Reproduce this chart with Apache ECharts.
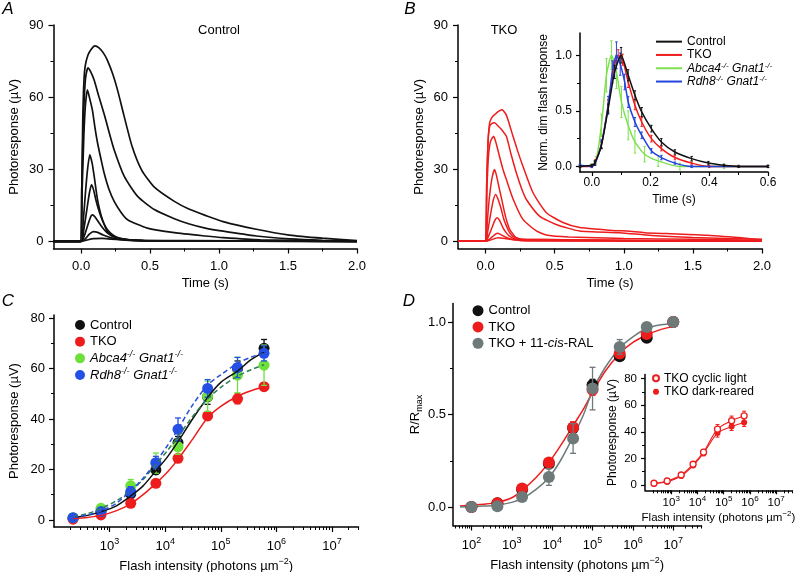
<!DOCTYPE html>
<html><head><meta charset="utf-8">
<script src="https://cdn.jsdelivr.net/npm/echarts@6/dist/echarts.min.js"></script>
<style>html,body{margin:0;padding:0;background:#fff}#c{width:797px;height:572px}</style>
</head><body><div id="c"></div><script>
// ---------------- DATA ----------------
// Panel A: Control flash responses [time (s), µV]
const ctrlTrace1 = [[-0.2,0],[-0.005,0],[0.005,22],[0.012,50],[0.02,66],[0.03,73],[0.05,77.5],[0.075,80],[0.1,81.3],[0.13,80.5],[0.16,78.5],[0.19,75.4],[0.23,69.5],[0.264,63],[0.31,52.5],[0.37,39.4],[0.44,29.5],[0.531,22.5],[0.676,16.6],[0.785,13.3],[0.9,10.8],[1.03,8.2],[1.27,5],[1.51,2.6],[1.75,1.3],[2.0,0.3]];
const ctrlTrace2 = [[-0.2,0],[-0.005,0],[0.005,22],[0.015,48],[0.025,62],[0.035,69],[0.05,72.2],[0.07,70.5],[0.095,67],[0.13,60],[0.167,53],[0.2,46],[0.24,38],[0.313,27],[0.41,18.7],[0.531,13.2],[0.676,9.4],[0.785,7.2],[0.9,5.5],[1.03,4.2],[1.27,2.2],[1.51,1.0],[1.75,0.4],[2.0,0.1]];
const ctrlTrace3 = [[-0.2,0],[-0.005,0],[0.008,22],[0.02,44],[0.032,57],[0.046,63],[0.06,60],[0.082,54.6],[0.1,47.5],[0.119,41],[0.145,34],[0.167,28.4],[0.2,22],[0.24,16.6],[0.29,12],[0.337,9],[0.48,5.5],[0.676,3.6],[0.9,2.2],[1.03,1.5],[1.3,0.6],[2.0,0]];
const ctrlTrace4 = [[-0.2,0],[0,0],[0.015,8],[0.03,19],[0.045,29],[0.063,36],[0.08,32.5],[0.095,27],[0.107,22],[0.119,17.3],[0.137,12.5],[0.155,9],[0.19,4.1],[0.23,2.2],[0.264,1.4],[0.35,0.6],[0.6,0.2],[2.0,0]];
const ctrlTrace5 = [[-0.2,0],[0,0],[0.02,5],[0.04,12.5],[0.06,20],[0.075,23.5],[0.09,21.5],[0.107,17.3],[0.125,13.5],[0.143,10.4],[0.165,7.3],[0.19,4.9],[0.23,2.6],[0.28,1.2],[0.4,0.4],[2.0,0]];
const ctrlTrace6 = [[-0.2,0],[0,0],[0.025,2.5],[0.05,7],[0.07,10.3],[0.082,11],[0.1,10.2],[0.131,7.6],[0.16,5.3],[0.19,3.5],[0.23,2],[0.3,0.9],[0.45,0.3],[2.0,0]];
const ctrlTrace7 = [[-0.2,0],[0,0],[0.03,1],[0.06,3],[0.09,4],[0.12,3.7],[0.16,2.6],[0.22,1.4],[0.3,0.6],[0.45,0.2],[2.0,0]];
const ctrlTrace8 = [[-0.2,0],[0,0],[0.04,0.5],[0.09,1.1],[0.15,1.2],[0.22,0.9],[0.35,0.5],[0.5,0.2],[2.0,0]];
// Panel B: TKO flash responses [time (s), µV]
const tkoTrace1 = [[-0.2,0],[-0.005,0],[0.008,25],[0.018,42],[0.029,49.3],[0.045,51.5],[0.065,52.7],[0.09,54],[0.118,54.7],[0.15,52.5],[0.198,43.7],[0.235,37],[0.27,31.2],[0.343,20.2],[0.44,11.9],[0.56,7.8],[0.68,5.7],[0.826,5],[0.95,4.4],[1.02,4.3],[1.15,3.6],[1.31,3.2],[1.6,2.5],[1.9,1.2],[2.0,0.6]];
const tkoTrace2 = [[-0.2,0],[-0.005,0],[0.008,25],[0.018,42],[0.03,48],[0.045,49],[0.065,49.3],[0.09,48],[0.115,46.5],[0.15,43.7],[0.185,36],[0.222,28.5],[0.26,22],[0.295,17.4],[0.39,10.5],[0.51,7],[0.68,4.3],[0.97,3.6],[1.2,2.4],[1.5,1.6],[2.0,0.8]];
const tkoTrace3 = [[-0.2,0],[-0.005,0],[0.008,20],[0.02,35],[0.035,41.5],[0.058,43.7],[0.075,41],[0.1,35.4],[0.125,30],[0.15,25.7],[0.2,17.4],[0.27,9.1],[0.367,4.3],[0.45,2.5],[0.6,1.8],[1.0,1.2],[1.5,0.8],[2.0,0.4]];
const tkoTrace4 = [[-0.2,0],[0,0],[0.012,8],[0.025,17],[0.045,26],[0.065,29.9],[0.08,27],[0.1,21.6],[0.12,16.5],[0.137,11.9],[0.155,8],[0.174,5],[0.2,2.8],[0.22,1.5],[0.3,0.6],[2.0,0]];
const tkoTrace5 = [[-0.2,0],[0,0],[0.015,4],[0.035,11],[0.055,17],[0.072,19.5],[0.09,17.5],[0.113,13.3],[0.13,9.5],[0.15,6.4],[0.175,3.5],[0.2,2],[0.26,0.8],[2.0,0]];
const tkoTrace6 = [[-0.2,0],[0,0],[0.02,2],[0.045,5.5],[0.065,8.5],[0.082,9.8],[0.1,8.8],[0.125,5.7],[0.15,3.5],[0.175,2],[0.22,0.8],[2.0,0]];
const tkoTrace7 = [[-0.2,0],[0,0],[0.03,1],[0.06,2.5],[0.085,3.3],[0.11,2.8],[0.15,1.6],[0.2,0.7],[0.3,0.2],[2.0,0]];
const tkoTrace8 = [[-0.2,0],[0,0],[0.04,0.6],[0.09,1.5],[0.14,1.2],[0.2,0.6],[0.3,0.2],[2.0,0]];
// Panel B inset: normalized dim flash responses [time (s), value, SEM]
const insetControl = [[-0.04,0,0.01],[0.0,0.01,0.01],[0.01,0.03,0.02],[0.033,0.19,0.03],[0.056,0.52,0.04],[0.078,0.85,0.06],[0.1,1.0,0.07],[0.124,0.82,0.05],[0.147,0.64,0.04],[0.17,0.49,0.04],[0.203,0.34,0.03],[0.237,0.22,0.03],[0.283,0.13,0.02],[0.34,0.07,0.02],[0.397,0.03,0.015],[0.45,0.01,0.01],[0.5,0.0,0.01],[0.6,0.0,0.01]];
const insetTKO = [[-0.04,0,0.01],[0.0,0.0,0.01],[0.012,0.04,0.02],[0.033,0.2,0.03],[0.056,0.55,0.05],[0.075,0.88,0.06],[0.09,1.0,0.05],[0.105,0.96,0.05],[0.124,0.76,0.05],[0.147,0.55,0.04],[0.17,0.4,0.04],[0.203,0.25,0.03],[0.237,0.16,0.02],[0.283,0.08,0.02],[0.34,0.03,0.01],[0.4,0.0,0.01],[0.6,0.0,0.01]];
const insetAbca4 = [[-0.04,0.0,0.01],[0.0,0.01,0.01],[0.015,0.06,0.03],[0.033,0.37,0.1],[0.05,0.82,0.15],[0.067,1.0,0.13],[0.084,0.85,0.15],[0.101,0.58,0.14],[0.124,0.37,0.13],[0.147,0.22,0.1],[0.18,0.11,0.07],[0.226,0.05,0.05],[0.3,0.0,0.03],[0.45,0.0,0.02],[0.6,0.0,0.01]];
const insetRdh8 = [[-0.04,0.01,0.01],[0.0,0.0,0.01],[0.012,0.03,0.02],[0.033,0.2,0.04],[0.056,0.55,0.08],[0.07,0.85,0.1],[0.084,1.0,0.12],[0.097,0.92,0.1],[0.112,0.76,0.07],[0.124,0.58,0.05],[0.147,0.4,0.04],[0.17,0.28,0.03],[0.203,0.14,0.02],[0.237,0.08,0.02],[0.283,0.03,0.01],[0.34,0.0,0.01],[0.6,0.0,0.01]];
// Panel C: intensity-response (µV)
const intensityC = [220, 700, 2400, 6800, 17000, 58000, 200000, 600000];
const cControl = [0.7, 3.3, 10.3, 19.8, 30.6, 48.8, 60, 68];
const cControlErr = [0.5, 0.8, 1.5, 1.5, 2.5, 3, 3, 3.5];
const cTKO = [0.3, 2, 6.6, 14.5, 24.4, 41.2, 48, 52.8];
const cTKOErr = [0.3, 0.5, 0.8, 1, 1.2, 1.5, 2, 1.5];
const cAbca4 = [0.9, 4.6, 13.5, 22.5, 29, 49, 57.4, 61.3];
const cAbca4Err = [0.8, 1.2, 2.5, 4, 3, 6, 7, 8];
const cRdh8 = [0.9, 3.3, 11.2, 22.7, 35.9, 52.1, 60.4, 66];
const cRdh8Err = [0.5, 1, 2, 2.5, 4.5, 3.5, 4, 3];
const fitIntensityC = [220, 400, 700, 1300, 2400, 4000, 6800, 11000, 17000, 30000, 58000, 100000, 200000, 350000, 600000];
const cControlFit = [1.0, 1.8, 3.3, 5.5, 9.5, 13.5, 19.5, 25, 31, 39.5, 48.5, 54.5, 59, 63.5, 66.5];
const cTKOFit = [0.6, 1.0, 1.8, 3.6, 6.4, 10, 14.5, 19, 24, 31.5, 40.5, 45, 49, 51.2, 52.8];
const cAbca4Fit = [1.3, 2.5, 4.5, 7.5, 11.5, 16, 22, 27.5, 33, 40.5, 48, 52.5, 57, 59.5, 61.5];
const cRdh8Fit = [1.0, 2.0, 3.5, 6.5, 11.5, 16.5, 23, 29.5, 36, 45, 53.5, 57.5, 62, 64.5, 66];
// Panel D: normalized intensity-response
const intensityD = [100, 440, 1800, 8300, 33000, 100000, 470000, 2200000, 10000000];
const dControl = [0.0, 0.02, 0.094, 0.234, 0.427, 0.66, 0.815, 0.915, 1.0];
const dControlErr = [0, 0.005, 0.01, 0.02, 0.03, 0.03, 0.02, 0.02, 0];
const dTKO = [0.0, 0.02, 0.1, 0.24, 0.43, 0.634, 0.83, 0.935, 1.0];
const dTKOErr = [0, 0.005, 0.01, 0.02, 0.03, 0.03, 0.02, 0.02, 0];
const dRAL = [0, 0.004, 0.054, 0.162, 0.37, 0.64, 0.865, 0.973, 1.0];
const dRALErr = [0.005, 0.005, 0.01, 0.045, 0.08, 0.115, 0.04, 0.02, 0];
const fitIntensityD = [52, 100, 200, 440, 1000, 1800, 4000, 8300, 16000, 33000, 60000, 100000, 200000, 470000, 1000000, 2200000, 5000000, 10000000];
const dTKOFit = [0.005, 0.01, 0.015, 0.025, 0.05, 0.09, 0.16, 0.24, 0.33, 0.44, 0.53, 0.62, 0.73, 0.83, 0.89, 0.93, 0.96, 0.975];
const dRALFit = [0.0, 0.002, 0.005, 0.01, 0.025, 0.045, 0.095, 0.16, 0.25, 0.38, 0.5, 0.63, 0.75, 0.86, 0.92, 0.965, 0.985, 0.99];
// Panel D inset: TKO cyclic light vs dark-reared (µV)
const insetCyclic = [1.3, 3, 7.5, 15.6, 24.7, 42, 48.3, 52];
const insetCyclicErr = [0.5, 0.8, 1, 1.5, 2, 3.5, 3.5, 3.5];
const insetDark = [1, 2.5, 6.8, 14.6, 23.9, 39, 44, 47];
const insetDarkErr = [0.5, 0.8, 1, 1.5, 2, 3, 3, 3];
// Tick values / labels
const ticksTime = [0, 0.5, 1, 1.5, 2], minorTime = [0.25, 0.75, 1.25, 1.75];
const ticksResp = [0, 30, 60, 90], minorResp = [15, 45, 75];
const ticksInsetT = [0, 0.2, 0.4, 0.6], minorInsetT = [0.1, 0.3, 0.5];
const ticksNorm = [0, 0.5, 1], minorNorm = [0.25, 0.75];
const ticksRespC = [0, 20, 40, 60, 80], minorRespC = [10, 30, 50, 70];
const ticksLogC = [1e3, 1e4, 1e5, 1e6, 1e7];
const ticksLogD = [1e2, 1e3, 1e4, 1e5, 1e6, 1e7];

// ---------------- STYLE / BUILD ----------------
const FONT = '"Liberation Sans", Arial, sans-serif';
const RED = '#ee1d1d', BLACK = '#111111', GREEN = '#6ee03a', BLUE = '#2550e6', GREY = '#6e7a7a';
const GREENFIT = '#2f7d55', BLUEFIT = '#2a4fd8';
function richFor(fs, lh) {
  const ss = Math.round(fs * 0.68);
  return {
    b: {fontSize: fs, fontFamily: FONT, color: '#000', lineHeight: lh},
    i: {fontSize: fs, fontFamily: FONT, color: '#000', fontStyle: 'italic', lineHeight: lh},
    s: {fontSize: ss, fontFamily: FONT, color: '#000', lineHeight: ss + 1, verticalAlign: 'top'},
    si: {fontSize: ss, fontFamily: FONT, color: '#000', fontStyle: 'italic', lineHeight: ss + 1, verticalAlign: 'top'},
    sub: {fontSize: ss, fontFamily: FONT, color: '#000', lineHeight: ss + 1, verticalAlign: 'bottom'}
  };
}
const pow10 = v => '{b|10}{s|' + Math.round(Math.log10(v)) + '}';
function logMinors(min, max) {
  const out = [];
  for (let e = Math.floor(Math.log10(min)); e <= Math.ceil(Math.log10(max)); e++)
    for (let k = 2; k <= 9; k++) { const v = k * Math.pow(10, e); if (v >= min && v <= max) out.push(v); }
  return out;
}
const FLASH = '{b|Flash intensity (photons µm}{s|−2}{b|)}';

const grids = [
  {left: 53.5, top: 25, width: 303.5, height: 223.5},
  {left: 458, top: 25, width: 304, height: 223.5},
  {left: 580, top: 33, width: 188, height: 139},
  {left: 54, top: 315, width: 304.5, height: 212},
  {left: 453, top: 303.5, width: 248.5, height: 222},
  {left: 645, top: 374.6, width: 147, height: 115.7}
];
const xSpecs = [
  {type: 'value', min: -0.2, max: 2, major: ticksTime, minor: minorTime, fmt: v => v.toFixed(1), margin: 11, name: 'Time (s)', nameGap: 28},
  {type: 'value', min: -0.2, max: 2, major: ticksTime, minor: minorTime, fmt: v => v.toFixed(1), margin: 11, name: 'Time (s)', nameGap: 28},
  {type: 'value', min: -0.04, max: 0.6, major: ticksInsetT, minor: minorInsetT, fmt: v => v.toFixed(1), fs: 12, margin: 5, tickLen: 4, name: 'Time (s)', nfs: 12, nameGap: 22},
  {type: 'log', min: 100, max: 3e7, major: ticksLogC, minor: logMinors(100, 3e7), fmt: pow10, margin: 10, name: FLASH, nameGap: 30},
  {type: 'log', min: 35, max: 5e7, major: ticksLogD, minor: logMinors(35, 5e7), fmt: pow10, margin: 11, name: FLASH, nameGap: 31},
  {type: 'log', min: 100, max: 4e7, major: ticksLogC, minor: logMinors(100, 4e7), fmt: pow10, fs: 11.5, margin: 4, tickLen: 4, name: FLASH, nfs: 11.5, nameGap: 17}
];
const ySpecs = [
  {type: 'value', min: -3, max: 90, major: ticksResp, minor: minorResp, fmt: v => String(v), margin: 10, name: 'Photoresponse (µV)', nameGap: 33},
  {type: 'value', min: -3, max: 90, major: ticksResp, minor: minorResp, fmt: v => String(v), margin: 10, name: 'Photoresponse (µV)', nameGap: 32},
  {type: 'value', min: -0.05, max: 1.2, major: ticksNorm, minor: minorNorm, fmt: v => v.toFixed(1), fs: 12, margin: 8, tickLen: 4, name: 'Norm. dim flash response', nfs: 12, nameGap: 30},
  {type: 'value', min: -2.8, max: 81.2, major: ticksRespC, minor: minorRespC, fmt: v => String(v), margin: 9, name: 'Photoresponse (µV)', nameGap: 33},
  {type: 'value', min: -0.1, max: 1.1, major: ticksNorm, minor: minorNorm, fmt: v => v.toFixed(1), margin: 7, name: '{b|R/R}{sub|max}', nameGap: 29},
  {type: 'value', min: -4, max: 83, major: ticksRespC, minor: minorRespC, fmt: v => String(v), fs: 11.5, margin: 8, tickLen: 4, name: 'Photoresponse (µV)', nfs: 12, nameGap: 26}
];
function axisPair(dim, gi, c) {
  const fs = c.fs || 13, nfs = c.nfs || 13;
  const base = {gridIndex: gi, type: c.type, min: c.min, max: c.max, position: dim === 'x' ? 'bottom' : 'left', splitLine: {show: false}};
  if (c.type === 'log') base.logBase = 10;
  const main = Object.assign({}, base, {
    axisLine: {show: true, onZero: false, lineStyle: {color: '#000', width: 1.5}},
    axisTick: {show: true, inside: false, length: c.tickLen || 5, customValues: c.major, lineStyle: {color: '#000', width: 1.2}},
    axisLabel: {show: true, customValues: c.major, formatter: c.fmt, margin: c.margin, color: '#000', fontSize: fs, fontFamily: FONT, rich: richFor(fs, fs + 5)},
    name: c.name, nameLocation: 'middle', nameGap: c.nameGap, nameRotate: dim === 'y' ? 90 : 0,
    nameTextStyle: {color: '#000', fontSize: nfs, fontFamily: FONT, rich: richFor(nfs, nfs + 5)}
  });
  const minor = Object.assign({}, base, {
    axisLine: {show: false, onZero: false},
    axisTick: {show: true, inside: false, length: 3, customValues: c.minor, lineStyle: {color: '#000', width: 1}},
    axisLabel: {show: false}, name: ''
  });
  return [main, minor];
}
const xAxis = [], yAxis = [];
grids.forEach((g, i) => { xAxis.push(...axisPair('x', i, xSpecs[i])); yAxis.push(...axisPair('y', i, ySpecs[i])); });

const series = [];
function lineS(g, data, color, width, extra) {
  series.push(Object.assign({type: 'line', xAxisIndex: 2 * g, yAxisIndex: 2 * g, data: data, showSymbol: false, symbol: 'none',
    smooth: 0.2, color: color, lineStyle: {color: color, width: width}, silent: true, z: 2}, extra || {}));
}
function errS(g, pts, color, cap, lw, z) {
  series.push({type: 'custom', xAxisIndex: 2 * g, yAxisIndex: 2 * g, z: z, silent: true, data: pts, encode: {x: 0, y: [1, 2]},
    renderItem: (p, api) => {
      const x = api.value(0), a = api.coord([x, api.value(1)]), b = api.coord([x, api.value(2)]);
      const st = {stroke: color, lineWidth: lw};
      const kids = [{type: 'line', shape: {x1: a[0], y1: a[1], x2: b[0], y2: b[1]}, style: st}];
      if (cap > 0) kids.push({type: 'line', shape: {x1: a[0] - cap, y1: a[1], x2: a[0] + cap, y2: a[1]}, style: st},
                             {type: 'line', shape: {x1: b[0] - cap, y1: b[1], x2: b[0] + cap, y2: b[1]}, style: st});
      return {type: 'group', children: kids};
    }});
}
function scatS(g, name, xs, ys, color, size, z) {
  series.push({type: 'scatter', name: name, xAxisIndex: 2 * g, yAxisIndex: 2 * g, data: xs.map((x, i) => [x, ys[i]]),
    symbol: 'circle', symbolSize: size, color: color, itemStyle: {color: color, opacity: 1}, z: z, silent: true});
}
const errPts = (xs, ys, es) => xs.map((x, i) => [x, ys[i] - es[i], ys[i] + es[i]]);
const rowErr = rows => rows.map(r => [r[0], r[1] - r[2], r[1] + r[2]]);
const xy = rows => rows.map(r => [r[0], r[1]]);
const zipXY = (xs, ys) => xs.map((x, i) => [x, ys[i]]);

// A
[ctrlTrace8, ctrlTrace7, ctrlTrace6, ctrlTrace5, ctrlTrace4, ctrlTrace3, ctrlTrace2, ctrlTrace1].forEach(t => lineS(0, t, BLACK, 1.7));
// B
[tkoTrace8, tkoTrace7, tkoTrace6, tkoTrace5, tkoTrace4, tkoTrace3, tkoTrace2, tkoTrace1].forEach(t => lineS(1, t, RED, 1.5));
// B inset
[[insetAbca4, '#7ee050', 'bAbca4'], [insetTKO, RED, 'bTKO'], [insetRdh8, '#2244dd', 'bRdh8'], [insetControl, BLACK, 'bControl']].forEach((d, k) => {
  errS(2, rowErr(d[0]), d[1], 1.2, 1, 3 + k);
  lineS(2, xy(d[0]), d[1], 1.5, {name: d[2], z: 3 + k});
});
// C
[[cControl, cControlErr, BLACK, 'cControl'], [cTKO, cTKOErr, RED, 'cTKO'], [cAbca4, cAbca4Err, GREEN, 'cAbca4'], [cRdh8, cRdh8Err, BLUE, 'cRdh8']].forEach((d, k) => {
  errS(3, errPts(intensityC, d[0], d[1]), d[2], 3, 1.3, 3 + k);
  scatS(3, d[3], intensityC, d[0], d[2], 11, 3 + k);
});
lineS(3, zipXY(fitIntensityC, cTKOFit), RED, 1.5, {z: 10, smooth: 0.3});
lineS(3, zipXY(fitIntensityC, cControlFit), BLACK, 1.5, {z: 10, smooth: 0.3});
lineS(3, zipXY(fitIntensityC, cAbca4Fit), GREENFIT, 1.5, {z: 10, smooth: 0.3, lineStyle: {color: GREENFIT, width: 1.5, type: [5, 3]}});
lineS(3, zipXY(fitIntensityC, cRdh8Fit), BLUEFIT, 1.5, {z: 10, smooth: 0.3, lineStyle: {color: BLUEFIT, width: 1.5, type: [5, 3]}});
// D
lineS(4, zipXY(fitIntensityD, dTKOFit), RED, 1.5, {z: 2, smooth: 0.3});
lineS(4, zipXY(fitIntensityD, dRALFit), GREY, 1.5, {z: 2, smooth: 0.3});
[[dControl, dControlErr, BLACK, 'dControl'], [dTKO, dTKOErr, RED, 'dTKO'], [dRAL, dRALErr, GREY, 'dRAL']].forEach((d, k) => {
  errS(4, errPts(intensityD, d[0], d[1]), d[2], 3, 1.3, 3 + k);
  scatS(4, d[3], intensityD, d[0], d[2], 12, 3 + k);
});
// D inset
errS(5, errPts(intensityC, insetDark, insetDarkErr), RED, 2, 1, 3);
errS(5, errPts(intensityC, insetCyclic, insetCyclicErr), RED, 2, 1, 3);
series.push({type: 'line', name: 'iDark', xAxisIndex: 10, yAxisIndex: 10, data: zipXY(intensityC, insetDark), smooth: 0.3,
  symbol: 'circle', symbolSize: 6, showSymbol: true, color: RED, lineStyle: {color: RED, width: 1.1}, itemStyle: {color: RED, opacity: 1}, z: 4, silent: true});
series.push({type: 'line', name: 'iCyclic', xAxisIndex: 10, yAxisIndex: 10, data: zipXY(intensityC, insetCyclic), smooth: 0.3,
  symbol: 'circle', symbolSize: 6, showSymbol: true, color: RED, lineStyle: {color: RED, width: 1.1}, itemStyle: {color: '#fff', borderColor: RED, borderWidth: 1.3, opacity: 1}, z: 5, silent: true});

// Legends
const LEG = {
  bControl: '{b|Control}', bTKO: '{b|TKO}', bAbca4: '{i|Abca4}{si|-/-}{i| Gnat1}{si|-/-}', bRdh8: '{i|Rdh8}{si|-/-}{i| Gnat1}{si|-/-}',
  cControl: '{b|Control}', cTKO: '{b|TKO}', cAbca4: '{i|Abca4}{si|-/-}{i| Gnat1}{si|-/-}', cRdh8: '{i|Rdh8}{si|-/-}{i| Gnat1}{si|-/-}',
  dControl: '{b|Control}', dTKO: '{b|TKO}', dRAL: '{b|TKO + 11-}{i|cis}{b|-RAL}',
  iCyclic: '{b|TKO cyclic light}', iDark: '{b|TKO dark-reared}'
};
function leg(names, left, top, iw, ih, icon, fs, lh) {
  return {data: names, orient: 'vertical', left: left, top: top, itemWidth: iw, itemHeight: ih, itemGap: 0, icon: icon, padding: 0,
    selectedMode: false, formatter: n => LEG[n], itemStyle: {opacity: 1},
    textStyle: {color: '#000', fontSize: fs, fontFamily: FONT, lineHeight: lh, rich: richFor(fs, lh)}};
}
const legend = [
  leg(['bControl', 'bTKO', 'bAbca4', 'bRdh8'], 656, 35, 26, 2, 'rect', 12, 13.3),
  leg(['cControl', 'cTKO', 'cAbca4', 'cRdh8'], 75, 316.6, 10, 10, 'circle', 13, 16.7),
  leg(['dControl', 'dTKO', 'dRAL'], 472.5, 302.5, 11, 11, 'circle', 13, 16.3),
  leg(['iCyclic', 'iDark'], 652, 371.6, 6, 6, 'circle', 12, 13.4)
];
const txt = (x, y, s, opt) => ({type: 'text', x: x, y: y, silent: true,
  style: Object.assign({text: s, fill: '#000', fontSize: 13, fontFamily: FONT, align: 'center', verticalAlign: 'middle'}, opt || {})});
const graphic = [
  txt(8, 9, 'A', {fontSize: 17, fontStyle: 'italic'}),
  txt(410, 9, 'B', {fontSize: 17, fontStyle: 'italic'}),
  txt(8, 301, 'C', {fontSize: 17, fontStyle: 'italic'}),
  txt(409, 301, 'D', {fontSize: 17, fontStyle: 'italic'}),
  txt(219, 30, 'Control'),
  txt(504, 30, 'TKO')
];

const chart = echarts.init(document.getElementById('c'), null, {renderer: 'canvas', width: 797, height: 572});
chart.setOption({
  animation: false,
  backgroundColor: '#fff',
  textStyle: {fontFamily: FONT},
  grid: grids.map(g => Object.assign({containLabel: false, outerBoundsMode: 'none'}, g)),
  xAxis: xAxis, yAxis: yAxis, series: series, legend: legend, graphic: graphic
});
</script></body></html>
